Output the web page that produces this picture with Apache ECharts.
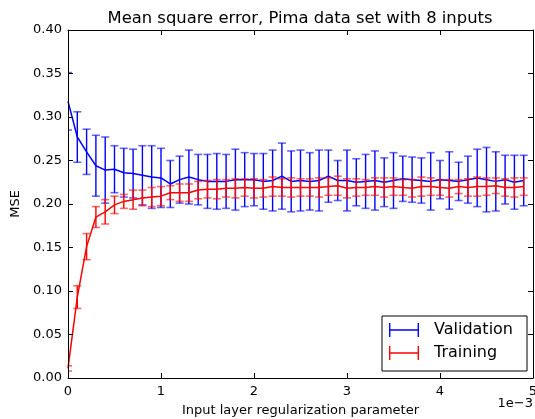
<!DOCTYPE html>
<html>
<head>
<meta charset="utf-8">
<script src="https://cdn.jsdelivr.net/npm/echarts@6/dist/echarts.min.js"></script>
<style>
html,body{margin:0;padding:0;background:#fff;}
#chart{width:535px;height:419px;}
</style>
</head>
<body>
<div id="chart"></div>
<script>
// x values in units of 1e-3
const xValues = [0.0,0.1,0.2,0.3,0.4,0.5,0.6,0.7,0.8,0.9,
                 1.0,1.1,1.2,1.3,1.4,1.5,1.6,1.7,1.8,1.9,
                 2.0,2.1,2.2,2.3,2.4,2.5,2.6,2.7,2.8,2.9,
                 3.0,3.1,3.2,3.3,3.4,3.5,3.6,3.7,3.8,3.9,
                 4.0,4.1,4.2,4.3,4.4,4.5,4.6,4.7,4.8,4.9];
const validationMean = [0.318,0.277,0.260,0.244,0.239,0.240,0.236,0.235,0.233,0.231,
                        0.230,0.223,0.228,0.231,0.228,0.226,0.226,0.226,0.228,0.228,
                        0.228,0.226,0.227,0.232,0.226,0.227,0.226,0.227,0.232,0.227,
                        0.227,0.225,0.226,0.227,0.225,0.227,0.229,0.228,0.227,0.226,
                        0.228,0.227,0.226,0.228,0.230,0.228,0.226,0.228,0.225,0.227];
const validationErr = [0.033,0.029,0.026,0.035,0.038,0.027,0.028,0.028,0.034,0.036,
                       0.034,0.027,0.027,0.031,0.029,0.031,0.032,0.031,0.035,0.031,
                       0.030,0.032,0.035,0.038,0.035,0.035,0.033,0.035,0.030,0.023,
                       0.035,0.027,0.031,0.034,0.028,0.032,0.026,0.026,0.026,0.033,
                       0.022,0.033,0.022,0.027,0.033,0.037,0.034,0.028,0.031,0.029];
const trainingMean = [0.011,0.093,0.151,0.185,0.191,0.199,0.203,0.205,0.207,0.208,
                      0.209,0.213,0.213,0.213,0.216,0.217,0.217,0.218,0.218,0.219,
                      0.218,0.218,0.220,0.219,0.219,0.219,0.219,0.219,0.220,0.221,
                      0.218,0.219,0.219,0.220,0.219,0.220,0.219,0.218,0.220,0.220,
                      0.219,0.218,0.220,0.219,0.220,0.220,0.221,0.219,0.219,0.220];
const trainingErr = [0.003,0.013,0.015,0.012,0.014,0.010,0.008,0.011,0.009,0.011,
                     0.011,0.008,0.010,0.010,0.010,0.010,0.011,0.010,0.011,0.010,
                     0.011,0.010,0.011,0.010,0.011,0.010,0.010,0.011,0.010,0.011,
                     0.011,0.010,0.009,0.010,0.011,0.010,0.009,0.010,0.011,0.010,
                     0.009,0.010,0.008,0.010,0.011,0.010,0.009,0.010,0.011,0.010];
const yTicks = {min:0, max:0.40, interval:0.05};
const xTicks = {min:0, max:5, interval:1};
const titleText = 'Mean square error, Pima data set with 8 inputs';
const xName = 'Input layer regularization parameter';
const yName = 'MSE';
const offsetText = '1e\u22123';

const BLUE = '#0000ff', RED = '#ff0000';
const FONT = 'DejaVu Sans';

function line(x) { return xValues.map((v,i)=>[v, x[i]]); }
function bars(m, e) { return xValues.map((v,i)=>[v, m[i]-e[i], m[i]+e[i]]); }

function errRender(color) {
  return function(params, api) {
    const x = api.value(0), lo = api.value(1), hi = api.value(2);
    const a = api.coord([x, hi]), b = api.coord([x, lo]);
    const c = 4;
    return {type:'group', children:[
      {type:'line', shape:{x1:a[0],y1:a[1],x2:b[0],y2:b[1]}, style:{stroke:color, lineWidth:1.4}},
      {type:'line', shape:{x1:a[0]-c,y1:a[1],x2:a[0]+c,y2:a[1]}, style:{stroke:color, lineWidth:1.6, opacity:0.6}},
      {type:'line', shape:{x1:b[0]-c,y1:b[1],x2:b[0]+c,y2:b[1]}, style:{stroke:color, lineWidth:1.6, opacity:0.6}}
    ]};
  };
}

const iconPath = 'path://M0,0h1.4v14h-1.4z M0,6.3h30v1.4h-30z M28.6,0h1.4v14h-1.4z';

const axisCommon = {
  axisLine:{show:true, onZero:false, lineStyle:{color:'#000', width:1}},
  axisTick:{show:true, inside:true, length:5, lineStyle:{color:'#000', width:1}},
  splitLine:{show:false},
  z:10
};

const chart = echarts.init(document.getElementById('chart'), null, {renderer:'canvas'});
chart.setOption({
  animation:false,
  backgroundColor:'#fff',
  title:{text:titleText, left:295, top:6, textAlign:'center',
         textStyle:{fontFamily:FONT, fontSize:16.4, fontWeight:'normal', color:'#000'}},
  grid:{left:68, right:2, top:30, bottom:41, containLabel:false, outerBoundsMode:'none'},
  legend:{
    orient:'vertical', left:382, top:316,
    padding:[6,14,10,7], itemGap:7, itemWidth:30, itemHeight:14,
    borderColor:'#000', borderWidth:1, borderRadius:0, backgroundColor:'#fff',
    textStyle:{fontFamily:FONT, fontSize:16, color:'#000', lineHeight:16, padding:[0,0,0,10]},
    data:[
      {name:'Validation', icon:iconPath, itemStyle:{color:BLUE}},
      {name:'Training', icon:iconPath, itemStyle:{color:RED}}
    ]
  },
  xAxis:[
    Object.assign({type:'value', position:'bottom', min:xTicks.min, max:xTicks.max, interval:xTicks.interval,
      name:xName, nameLocation:'middle', nameGap:26,
      nameTextStyle:{fontFamily:FONT, fontSize:13, color:'#000'},
      axisLabel:{fontFamily:FONT, fontSize:13, color:'#000', margin:7, formatter:v=>String(Math.round(v))}}, axisCommon),
    Object.assign({type:'value', position:'top', min:xTicks.min, max:xTicks.max, interval:xTicks.interval,
      axisLabel:{show:false}}, axisCommon)
  ],
  yAxis:[
    Object.assign({type:'value', position:'left', min:yTicks.min, max:yTicks.max, interval:yTicks.interval,
      name:yName, nameLocation:'middle', nameGap:40, nameRotate:90,
      nameTextStyle:{fontFamily:FONT, fontSize:13, color:'#000'},
      axisLabel:{fontFamily:FONT, fontSize:13, color:'#000', margin:6, formatter:v=>v.toFixed(2)}}, axisCommon),
    Object.assign({type:'value', position:'right', min:yTicks.min, max:yTicks.max, interval:yTicks.interval,
      axisLabel:{show:false}}, axisCommon)
  ],
  graphic:[{type:'text', right:2, top:397, style:{text:offsetText, font:'13px "DejaVu Sans"', fill:'#000'}}],
  series:[
    {name:'Validation', type:'line', data:line(validationMean), symbol:'none', showSymbol:false,
     lineStyle:{color:BLUE, width:1.5}, itemStyle:{color:BLUE}, clip:true, z:2},
    {name:'Validation', type:'custom', data:bars(validationMean, validationErr), renderItem:errRender(BLUE),
     clip:true, encode:{x:0, y:[1,2]}, itemStyle:{color:BLUE}, z:2},
    {name:'Training', type:'line', data:line(trainingMean), symbol:'none', showSymbol:false,
     lineStyle:{color:RED, width:1.5}, itemStyle:{color:RED}, clip:true, z:3},
    {name:'Training', type:'custom', data:bars(trainingMean, trainingErr), renderItem:errRender(RED),
     clip:true, encode:{x:0, y:[1,2]}, itemStyle:{color:RED}, z:3}
  ]
});
</script>
</body>
</html>
